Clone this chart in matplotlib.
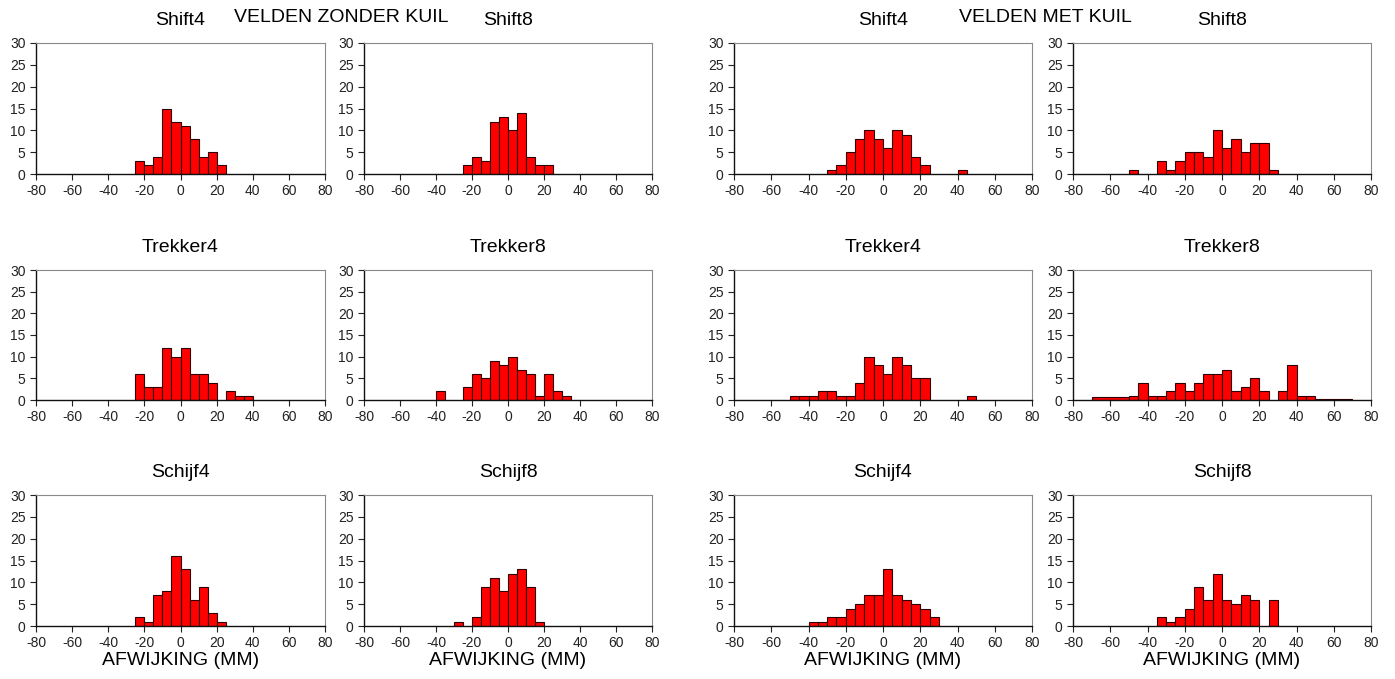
import matplotlib
matplotlib.use("Agg")
import matplotlib.pyplot as plt
import numpy as np

plt.rcParams['font.family'] = ['Liberation Sans', 'DejaVu Sans']
plt.rcParams['axes.unicode_minus'] = False

# bin left edges (mm) and counts per panel; bins are 5 mm wide unless noted
zk_shift4_left = [-25, -20, -15, -10, -5, 0, 5, 10, 15, 20]
zk_shift4_n = [3, 2, 4, 15, 12, 11, 8, 4, 5, 2]
zk_shift8_left = [-25, -20, -15, -10, -5, 0, 5, 10, 15, 20]
zk_shift8_n = [2, 4, 3, 12, 13, 10, 14, 4, 2, 2]
mk_shift4_left = [-30, -25, -20, -15, -10, -5, 0, 5, 10, 15, 20, 40]
mk_shift4_n = [1, 2, 5, 8, 10, 8, 6, 10, 9, 4, 2, 1]
mk_shift8_left = [-50, -35, -30, -25, -20, -15, -10, -5, 0, 5, 10, 15, 20, 25]
mk_shift8_n = [1, 3, 1, 3, 5, 5, 4, 10, 6, 8, 5, 7, 7, 1]

zk_trek4_left = [-25, -20, -15, -10, -5, 0, 5, 10, 15, 25, 30, 35]
zk_trek4_n = [6, 3, 3, 12, 10, 12, 6, 6, 4, 2, 1, 1]
zk_trek8_left = [-40, -25, -20, -15, -10, -5, 0, 5, 10, 15, 20, 25, 30]
zk_trek8_n = [2, 3, 6, 5, 9, 8, 10, 7, 6, 1, 6, 2, 1]
mk_trek4_left = [-50, -45, -40, -35, -30, -25, -20, -15, -10, -5, 0, 5, 10, 15, 20, 45]
mk_trek4_n = [1, 1, 1, 2, 2, 1, 1, 4, 10, 8, 6, 10, 8, 5, 5, 1]
# outer classes of this panel are 20 mm wide
mk_trek8_left = [-70, -50, -45, -40, -35, -30, -25, -20, -15, -10, -5, 0, 5, 10, 15, 20,
                 30, 35, 40, 45, 50]
mk_trek8_width = [20, 5, 5, 5, 5, 5, 5, 5, 5, 5, 5, 5, 5, 5, 5, 5, 5, 5, 5, 5, 20]
mk_trek8_n = [0.7, 1, 4, 1, 1, 2, 4, 2, 4, 6, 6, 7, 2, 3, 5, 2, 2, 8, 1, 1, 0.2]

zk_schijf4_left = [-25, -20, -15, -10, -5, 0, 5, 10, 15, 20]
zk_schijf4_n = [2, 1, 7, 8, 16, 13, 6, 9, 3, 1]
zk_schijf8_left = [-30, -20, -15, -10, -5, 0, 5, 10, 15]
zk_schijf8_n = [1, 2, 9, 11, 8, 12, 13, 9, 1]
mk_schijf4_left = [-40, -35, -30, -25, -20, -15, -10, -5, 0, 5, 10, 15, 20, 25]
mk_schijf4_n = [1, 1, 2, 2, 4, 5, 7, 7, 13, 7, 6, 5, 4, 2]
mk_schijf8_left = [-35, -30, -25, -20, -15, -10, -5, 0, 5, 10, 15, 25]
mk_schijf8_n = [2, 1, 2, 4, 9, 6, 12, 6, 5, 7, 6, 6]

panels = [
    ("Shift4", zk_shift4_left, zk_shift4_n, None),
    ("Shift8", zk_shift8_left, zk_shift8_n, None),
    ("Shift4", mk_shift4_left, mk_shift4_n, None),
    ("Shift8", mk_shift8_left, mk_shift8_n, None),
    ("Trekker4", zk_trek4_left, zk_trek4_n, None),
    ("Trekker8", zk_trek8_left, zk_trek8_n, None),
    ("Trekker4", mk_trek4_left, mk_trek4_n, None),
    ("Trekker8", mk_trek8_left, mk_trek8_n, mk_trek8_width),
    ("Schijf4", zk_schijf4_left, zk_schijf4_n, None),
    ("Schijf8", zk_schijf8_left, zk_schijf8_n, None),
    ("Schijf4", mk_schijf4_left, mk_schijf4_n, None),
    ("Schijf8", mk_schijf8_left, mk_schijf8_n, None),
]

W, H = 1395, 679
fig = plt.figure(figsize=(W / 100, H / 100), dpi=100)

# axes boxes in pixels: (left, right) per column, (top, bottom) per row
cols = [(36, 325), (364, 652), (734, 1032), (1073, 1371)]
rows = [(43, 174), (270, 400), (495, 626)]

for i, (title, left, n, width) in enumerate(panels):
    r, c = divmod(i, 4)
    x0, x1 = cols[c]
    y0, y1 = rows[r]
    ax = fig.add_axes([x0 / W, 1 - y1 / H, (x1 - x0) / W, (y1 - y0) / H])
    w = width if width is not None else 5
    ax.bar(left, n, width=w, align='edge', color='#ff0000', edgecolor='#300000', linewidth=0.8)
    ax.set_xlim(-80, 80)
    ax.set_ylim(0, 30)
    ax.set_xticks(np.arange(-80, 81, 20))
    ax.set_yticks(np.arange(0, 31, 5))
    ax.tick_params(labelsize=10, length=4, width=0.8, colors='#222222')
    for s in ['top', 'right']:
        ax.spines[s].set_color('#8a8a8a')
        ax.spines[s].set_linewidth(0.8)
    for s in ['left', 'bottom']:
        ax.spines[s].set_color('#111111')
        ax.spines[s].set_linewidth(1.0)
    ax.set_title(title, fontsize=14, pad=13)
    if r == 2:
        ax.set_xlabel("AFWIJKING (MM)", fontsize=14, labelpad=1)

fig.text(341 / W, 1 - 18 / H, "VELDEN ZONDER KUIL", fontsize=14, ha='center', va='center')
fig.text(1045 / W, 1 - 18 / H, "VELDEN MET KUIL", fontsize=14, ha='center', va='center')

fig.savefig("out.png", dpi=100)
